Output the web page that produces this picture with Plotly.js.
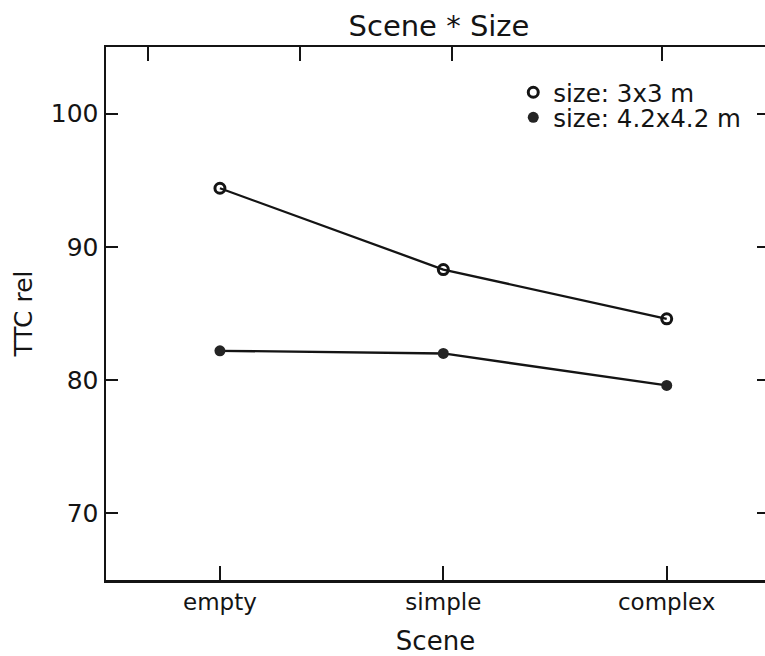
<!DOCTYPE html>
<html>
<head>
<meta charset="utf-8">
<script src="https://cdn.plot.ly/plotly-3.0.1.min.js"></script>
<style>
html,body{margin:0;padding:0;overflow:hidden;background:#fff;}
#chart{width:765px;height:656px;}
</style>
</head>
<body>
<div id="chart"></div>
<script>
// Data
const scenes = ["empty", "simple", "complex"];
const size3x3 = [94.4, 88.3, 84.6];
const size42x42 = [82.2, 82.0, 79.6];
const seriesNames = ["size: 3x3 m", "size: 4.2x4.2 m"];
const yTicks = [70, 80, 90, 100];
const topTickVals = [0.064, 0.294, 0.525, 0.843];

const FONT = "DejaVu Sans, Liberation Sans, Arial, sans-serif";
const INK = "#141414";
const xIdx = scenes.map((_, i) => i);

const openMarker = {symbol: "circle-open", size: 10, color: INK, line: {width: 3, color: INK}};
const fillMarker = {symbol: "circle", size: 11, color: "#242424", line: {width: 0}};

const traces = [
  {
    x: xIdx, y: size3x3, type: "scatter", mode: "lines+markers",
    line: {color: INK, width: 2.3}, marker: openMarker,
    showlegend: false, hoverinfo: "skip"
  },
  {
    x: xIdx, y: size42x42, type: "scatter", mode: "lines+markers",
    line: {color: INK, width: 2.3}, marker: fillMarker,
    showlegend: false, hoverinfo: "skip"
  },
  {
    x: [null], y: [null], type: "scatter", mode: "markers", name: seriesNames[0],
    marker: openMarker, legend: "legend", showlegend: true
  },
  {
    x: [null], y: [null], type: "scatter", mode: "markers", name: seriesNames[1],
    marker: fillMarker, legend: "legend2", showlegend: true
  },
  {
    x: [0, 1], y: [null, null], xaxis: "x2", yaxis: "y2", type: "scatter",
    mode: "markers", showlegend: false, hoverinfo: "skip"
  }
];

const legendBase = {
  font: {family: FONT, size: 24.5, color: INK},
  bgcolor: "rgba(0,0,0,0)", borderwidth: 0,
  xanchor: "left", yanchor: "middle", itemwidth: 30, tracegroupgap: 0
};

const layout = {
  width: 765, height: 656,
  margin: {l: 106, r: 0, t: 46.5, b: 76, pad: 0},
  paper_bgcolor: "#fff", plot_bgcolor: "#fff",
  font: {family: FONT, color: INK},
  title: {
    text: "Scene * Size", font: {family: FONT, size: 29, color: INK},
    x: 439 / 765, xref: "container", xanchor: "center",
    y: 1 - 26 / 656, yref: "container", yanchor: "middle"
  },
  xaxis: {
    range: [-0.51, 2.44], tickvals: xIdx, ticktext: scenes,
    showgrid: false, zeroline: false,
    showline: true, linecolor: INK, linewidth: 2.5, mirror: true,
    ticks: "inside", ticklen: 14, tickwidth: 2, tickcolor: INK,
    tickfont: {family: FONT, size: 23, color: INK},
    title: {text: "Scene", font: {family: FONT, size: 26, color: INK}, standoff: 19}
  },
  xaxis2: {
    overlaying: "x", side: "top", range: [0, 1], tickvals: topTickVals,
    showticklabels: false, showgrid: false, zeroline: false, showline: false,
    ticks: "inside", ticklen: 14, tickwidth: 2, tickcolor: INK
  },
  yaxis: {
    range: [65, 105], tickvals: yTicks,
    showgrid: false, zeroline: false,
    showline: true, linecolor: INK, linewidth: 2.5, mirror: false,
    ticks: "inside", ticklen: 12, tickwidth: 2, tickcolor: INK,
    tickfont: {family: FONT, size: 25, color: INK},
    title: {text: "TTC rel", font: {family: FONT, size: 25, color: INK}, standoff: 11}
  },
  yaxis2: {
    overlaying: "y", side: "right", anchor: "x", matches: "y", tickvals: yTicks,
    showticklabels: false, showgrid: false, zeroline: false, showline: false,
    ticks: "inside", ticklen: 8, tickwidth: 2, tickcolor: INK
  },
  legend: Object.assign({}, legendBase, {x: 0.618, y: 0.915}),
  legend2: Object.assign({}, legendBase, {x: 0.618, y: 0.868}),
  showlegend: true
};

Plotly.newPlot("chart", traces, layout, {displayModeBar: false, staticPlot: true});
</script>
</body>
</html>
